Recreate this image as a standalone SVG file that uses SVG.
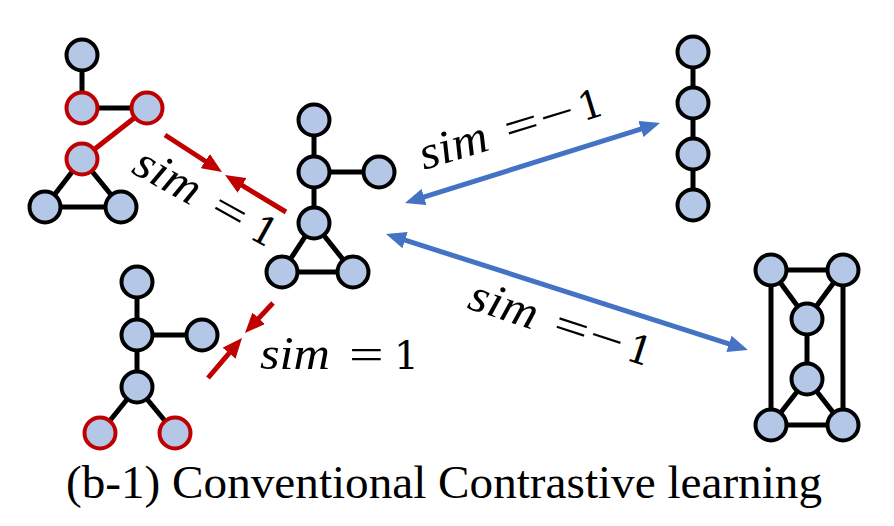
<svg xmlns="http://www.w3.org/2000/svg" width="894" height="526" viewBox="0 0 894 526">
<style>
.n{fill:#B4C7E7;stroke:#000;stroke-width:4}
.nr{fill:#B4C7E7;stroke:#C00000;stroke-width:4}
.e{stroke:#000;stroke-width:5;fill:none}
.er{stroke:#C00000;stroke-width:5;fill:none}
.ar{stroke:#C00000;stroke-width:5;fill:none;marker-end:url(#mr)}
.ab{stroke:#4472C4;stroke-width:5;fill:none;marker-start:url(#mb);marker-end:url(#mb)}
.sim{font-family:"Liberation Serif",serif;font-style:italic;font-size:47px;fill:#000}
.op{font-family:"Liberation Serif",serif;font-size:44px;fill:#000}
.one{font-family:"DejaVu Serif",serif;font-size:39px;fill:#000}
.cap{font-family:"Liberation Serif",serif;font-size:47px;fill:#000}
</style>
<defs>
<marker id="mr" viewBox="0 0 20 17" refX="9" refY="8.5" markerWidth="20" markerHeight="17" markerUnits="userSpaceOnUse" orient="auto"><path d="M0,0 L20,8.5 L0,17 z" fill="#C00000"/></marker>
<marker id="mb" viewBox="0 0 20 17" refX="9" refY="8.5" markerWidth="20" markerHeight="17" markerUnits="userSpaceOnUse" orient="auto-start-reverse"><path d="M0,0 L20,8.5 L0,17 z" fill="#4472C4"/></marker>
</defs>
<rect width="894" height="526" fill="#fff"/>
<g id="edges">
<line class="e" x1="82" y1="55" x2="82" y2="108"/>
<line class="e" x1="82" y1="108" x2="147" y2="108"/>
<line class="er" x1="147" y1="108" x2="82" y2="159"/>
<line class="e" x1="82" y1="159" x2="45" y2="207"/>
<line class="e" x1="82" y1="159" x2="121" y2="207"/>
<line class="e" x1="45" y1="207" x2="121" y2="207"/>
<line class="e" x1="314" y1="120" x2="314" y2="223"/>
<line class="e" x1="314" y1="172" x2="379" y2="172"/>
<line class="e" x1="314" y1="223" x2="282" y2="272"/>
<line class="e" x1="314" y1="223" x2="353" y2="272"/>
<line class="e" x1="282" y1="272" x2="353" y2="272"/>
<line class="e" x1="137" y1="282" x2="137" y2="387"/>
<line class="e" x1="137" y1="335" x2="202" y2="335"/>
<line class="e" x1="137" y1="387" x2="100" y2="433"/>
<line class="e" x1="137" y1="387" x2="175" y2="433"/>
<line class="e" x1="693" y1="52" x2="693" y2="205"/>
<line class="e" x1="771" y1="270" x2="843" y2="270"/>
<line class="e" x1="771" y1="425" x2="843" y2="425"/>
<line class="e" x1="771" y1="270" x2="771" y2="425"/>
<line class="e" x1="843" y1="270" x2="843" y2="425"/>
<line class="e" x1="771" y1="270" x2="807" y2="319"/>
<line class="e" x1="843" y1="270" x2="807" y2="319"/>
<line class="e" x1="807" y1="319" x2="807" y2="379"/>
<line class="e" x1="807" y1="379" x2="771" y2="425"/>
<line class="e" x1="807" y1="379" x2="843" y2="425"/>
</g>
<g id="connectors">
<line class="ar" x1="165" y1="135" x2="212.8" y2="166"/>
<line class="ar" x1="286" y1="212" x2="234.4" y2="180.7"/>
<line class="ar" x1="273" y1="303" x2="252.5" y2="324.9"/>
<line class="ar" x1="208" y1="378" x2="234.9" y2="346.4"/>
<line class="ab" x1="415.5" y1="199.7" x2="649.5" y2="126.3"/>
<line class="ab" x1="396.5" y1="237.4" x2="737.5" y2="346.6"/>
</g>
<g id="g1a"><circle class="n" cx="82" cy="55" r="15.5"/></g>
<g id="g1b"><circle class="nr" cx="82" cy="108" r="15.5"/></g>
<g id="g1c"><circle class="nr" cx="147" cy="108" r="15.5"/></g>
<g id="g1d"><circle class="nr" cx="82" cy="159" r="15.5"/></g>
<g id="g1e"><circle class="n" cx="45" cy="207" r="15.5"/></g>
<g id="g1f"><circle class="n" cx="121" cy="207" r="15.5"/></g>
<g id="g2a"><circle class="n" cx="314" cy="120" r="15.5"/></g>
<g id="g2b"><circle class="n" cx="314" cy="172" r="15.5"/></g>
<g id="g2c"><circle class="n" cx="379" cy="172" r="15.5"/></g>
<g id="g2d"><circle class="n" cx="314" cy="223" r="15.5"/></g>
<g id="g2e"><circle class="n" cx="282" cy="272" r="15.5"/></g>
<g id="g2f"><circle class="n" cx="353" cy="272" r="15.5"/></g>
<g id="g3a"><circle class="n" cx="137" cy="282" r="15.5"/></g>
<g id="g3b"><circle class="n" cx="137" cy="335" r="15.5"/></g>
<g id="g3c"><circle class="n" cx="202" cy="335" r="15.5"/></g>
<g id="g3d"><circle class="n" cx="137" cy="387" r="15.5"/></g>
<g id="g3e"><circle class="nr" cx="100" cy="433" r="15.5"/></g>
<g id="g3f"><circle class="nr" cx="175" cy="433" r="15.5"/></g>
<g id="g4a"><circle class="n" cx="693" cy="52" r="15.5"/></g>
<g id="g4b"><circle class="n" cx="693" cy="103" r="15.5"/></g>
<g id="g4c"><circle class="n" cx="693" cy="154" r="15.5"/></g>
<g id="g4d"><circle class="n" cx="693" cy="205" r="15.5"/></g>
<g id="g5a"><circle class="n" cx="771" cy="270" r="15.5"/></g>
<g id="g5b"><circle class="n" cx="843" cy="270" r="15.5"/></g>
<g id="g5c"><circle class="n" cx="807" cy="319" r="15.5"/></g>
<g id="g5d"><circle class="n" cx="807" cy="379" r="15.5"/></g>
<g id="g5e"><circle class="n" cx="771" cy="425" r="15.5"/></g>
<g id="g5f"><circle class="n" cx="843" cy="425" r="15.5"/></g>
<g id="labels">
<g transform="translate(130,172) rotate(29)">
<text class="sim" x="0" y="0" textLength="70" lengthAdjust="spacingAndGlyphs">sim</text>
<text class="op" transform="translate(89,0) scale(1.4,1)">=</text>
<text class="one" x="134" y="0">1</text>
</g>
<g transform="translate(260,369)">
<text class="sim" x="0" y="0" textLength="70" lengthAdjust="spacingAndGlyphs">sim</text>
<text class="op" transform="translate(89,0) scale(1.4,1)">=</text>
<text class="one" x="134" y="0">1</text>
</g>
<g transform="translate(424,170) rotate(-17)">
<text class="sim" x="0" y="0" textLength="70" lengthAdjust="spacingAndGlyphs">sim</text>
<text class="op" transform="translate(89,0) scale(1.4,1)">=</text>
<text class="op" transform="translate(126,0) scale(1.4,1)">−</text>
<text class="one" x="166" y="0">1</text>
</g>
<g transform="translate(466,308) rotate(18)">
<text class="sim" x="0" y="0" textLength="70" lengthAdjust="spacingAndGlyphs">sim</text>
<text class="op" transform="translate(89,0) scale(1.4,1)">=</text>
<text class="op" transform="translate(126,0) scale(1.4,1)">−</text>
<text class="one" x="166" y="0">1</text>
</g>
</g>
<text id="caption" class="cap" x="66" y="498" textLength="756" lengthAdjust="spacingAndGlyphs">(b-1) Conventional Contrastive learning</text>
</svg>
